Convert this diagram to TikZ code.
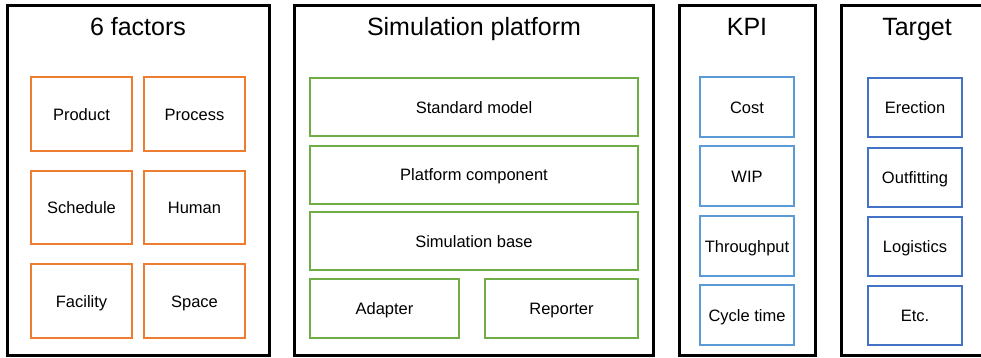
\documentclass[tikz,border=0pt]{standalone}
\usepackage{fontspec}
\setmainfont{Liberation Sans}
\definecolor{facOrange}{HTML}{ED7D31}
\definecolor{platGreen}{HTML}{70AD47}
\definecolor{kpiBlue}{HTML}{5B9BD5}
\definecolor{tgtBlue}{HTML}{4472C4}
\tikzset{
  panel/.style={draw=black, line width=3pt},
  paneltitle/.style={font=\fontsize{25}{28}\selectfont, inner sep=0pt, anchor=base},
  item/.style={draw, line width=2pt, rectangle, inner sep=0pt,
    text height=12pt, text depth=0pt,
    font=\fontsize{16.5}{19}\selectfont},
  factor/.style={item, draw=facOrange, minimum width=101pt},
  layer/.style={item, draw=platGreen, minimum height=58pt},
  kpi/.style={item, draw=kpiBlue, minimum width=94pt, minimum height=60pt},
  target/.style={item, draw=tgtBlue, minimum width=94pt, minimum height=59pt},
}
\begin{document}
\begin{tikzpicture}[x=1pt, y=-1pt]
\useasboundingbox (0,0) rectangle (981,357);
\clip (0,0) rectangle (981,357);
\fill[white] (0,0) rectangle (981,357);

% four panels
\draw[panel] (7,5) rectangle (269,355);
\draw[panel] (294,5) rectangle (653,355);
\draw[panel] (679,5) rectangle (815,355);
\draw[panel] (841,5) rectangle (1000,355);

\node[paneltitle] (tF) at (138,35) {6 factors};
\node[paneltitle] (tS) at (474,35) {Simulation platform};
\node[paneltitle] (tK) at (747,35) {KPI};
\node[paneltitle] (tT) at (917,35) {Target};

% six factors
\node[factor, minimum height=74pt] (product)  at (81.5,114)   {Product};
\node[factor, minimum height=74pt] (process)  at (194.5,114)  {Process};
\node[factor, minimum height=73pt] (schedule) at (81.5,207.5) {Schedule};
\node[factor, minimum height=73pt] (human)    at (194.5,207.5){Human};
\node[factor, minimum height=74pt] (facility) at (81.5,301)   {Facility};
\node[factor, minimum height=74pt] (space)    at (194.5,301)  {Space};

% simulation platform layers
\node[layer, minimum width=328pt] (stdmodel) at (474,107)   {Standard model};
\node[layer, minimum width=328pt] (platcomp) at (474,174.5) {Platform component};
\node[layer, minimum width=328pt] (simbase)  at (474,241)   {Simulation base};
\node[layer, minimum width=149pt, minimum height=59pt] (adapter)  at (384.5,308.5) {Adapter};
\node[layer, minimum width=153pt, minimum height=59pt] (reporter) at (561.5,308.5) {Reporter};

% KPIs
\node[kpi] (cost)  at (747,107) {Cost};
\node[kpi] (wip)   at (747,176) {WIP};
\node[kpi] (thru)  at (747,246) {Throughput};
\node[kpi] (cycle) at (747,315) {Cycle time};

% targets
\node[target] (erection)   at (915,107.5) {Erection};
\node[target] (outfitting) at (915,177)   {Outfitting};
\node[target] (logistics)  at (915,246)   {Logistics};
\node[target] (etc)        at (915,315)   {Etc.};
\end{tikzpicture}
\end{document}
